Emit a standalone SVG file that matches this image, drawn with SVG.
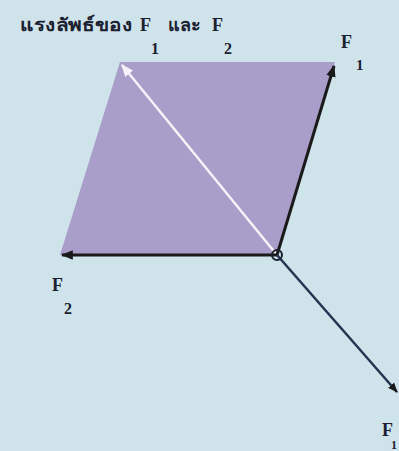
<svg xmlns="http://www.w3.org/2000/svg" width="399" height="451" viewBox="0 0 399 451">
<defs>
<style>
.t{font-family:"Liberation Serif","Noto Sans",serif;font-weight:bold;fill:#1a2030}
.v{stroke:#1a1a1a;stroke-width:3;fill:none}
</style>
<marker id="ah" viewBox="0 0 10 10" refX="9" refY="5" markerWidth="4" markerHeight="4" orient="auto" markerUnits="strokeWidth"><path d="M0,1 L10,5 L0,9 Z" fill="#1a1a1a"/></marker>
<marker id="aw" viewBox="0 0 10 10" refX="9" refY="5" markerWidth="5" markerHeight="5" orient="auto" markerUnits="strokeWidth"><path d="M0,1 L10,5 L0,9 Z" fill="#f4f4f8"/></marker>
</defs>
<rect width="399" height="451" fill="#cfe3ea"/>
<g id="parallelogram"><polygon points="120,62 335,62 277,255 60,255" fill="#a99dc9"/></g>
<g id="connectors">
<line x1="277" y1="255" x2="122" y2="65" stroke="#f4f4f8" stroke-width="2.5" marker-end="url(#aw)"/>
<line class="v" x1="277" y1="255" x2="334" y2="66" marker-end="url(#ah)"/>
<line class="v" x1="277" y1="255" x2="62" y2="255" marker-end="url(#ah)"/>
<line x1="277" y1="255" x2="397" y2="392" stroke="#253350" stroke-width="2.5" marker-end="url(#ah)"/>
</g>
<g id="origin"><circle cx="277" cy="255" r="5" fill="none" stroke="#1a2030" stroke-width="2"/></g>
<g id="title">
<text class="t" x="20" y="31" font-size="18" textLength="112" lengthAdjust="spacingAndGlyphs">แรงลัพธ์ของ</text>
<text class="t" x="140" y="31" font-size="18">F</text>
<text class="t" x="168" y="31" font-size="18" textLength="33" lengthAdjust="spacingAndGlyphs">และ</text>
<text class="t" x="212" y="31" font-size="18">F</text>
<text class="t" x="151" y="54" font-size="16">1</text>
<text class="t" x="224" y="54" font-size="16">2</text>
</g>
<g id="label-f1"><text class="t" x="341" y="48" font-size="18">F</text><text class="t" x="356" y="70" font-size="15">1</text></g>
<g id="label-f2"><text class="t" x="52" y="291" font-size="18">F</text><text class="t" x="64" y="314" font-size="16">2</text></g>
<g id="label-f3"><text class="t" x="382" y="436" font-size="18">F</text><text class="t" x="391" y="449" font-size="12">1</text></g>
</svg>
